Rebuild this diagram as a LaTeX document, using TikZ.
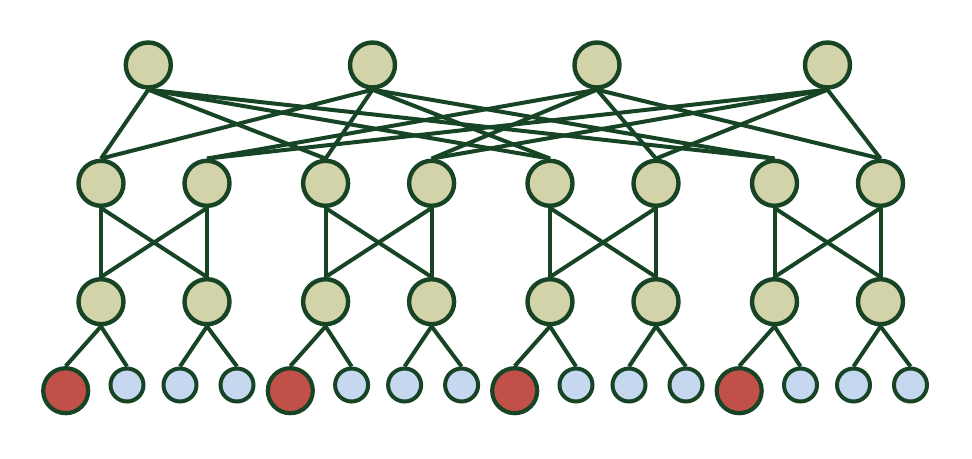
\documentclass[tikz,border=0pt]{standalone}
\usetikzlibrary{backgrounds}
\definecolor{lk}{RGB}{24,68,38}
\definecolor{tan}{RGB}{211,211,169}
\definecolor{hostred}{RGB}{192,80,72}
\definecolor{hostblue}{RGB}{198,216,240}
\begin{document}
\begin{tikzpicture}[x=1pt,y=-1pt,
  sw/.style={circle,draw=lk,line width=4.4pt,fill=tan,minimum size=45pt,inner sep=0pt},
  hb/.style={circle,draw=lk,line width=4pt,fill=hostblue,minimum size=33pt,inner sep=0pt},
  hr/.style={circle,draw=lk,line width=4.2pt,fill=hostred,minimum size=45pt,inner sep=0pt},
  lnk/.style={draw=lk,line width=4pt}]
\useasboundingbox (0,0) rectangle (972,458);
% core
\node[sw] (c1) at (148.3,65) {};
\node[sw] (c2) at (372.5,65) {};
\node[sw] (c3) at (597,65) {};
\node[sw] (c4) at (827.5,65) {};
% pods
\foreach \p/\ox in {1/101,2/325.6,3/550,4/774.5}{
  \node[sw] (a\p1) at (\ox,183.3) {};
  \node[sw] (a\p2) at (\ox+106,183.3) {};
  \node[sw] (e\p1) at (\ox,301.7) {};
  \node[sw] (e\p2) at (\ox+106,301.7) {};
  \node[hr] (h\p1) at (\ox-35.3,390.7) {};
  \node[hb] (h\p2) at (\ox+26,385) {};
  \node[hb] (h\p3) at (\ox+79,385) {};
  \node[hb] (h\p4) at (\ox+136,385) {};
}
\begin{scope}[on background layer]
\foreach \p in {1,2,3,4}{
  \path[lnk] (c1.south) -- (a\p1.north);
  \path[lnk] (c2.south) -- (a\p1.north);
  \path[lnk] (c3.south) -- (a\p2.north);
  \path[lnk] (c4.south) -- (a\p2.north);
  \path[lnk] (a\p1.south) -- (e\p1.north);
  \path[lnk] (a\p1.south) -- (e\p2.north);
  \path[lnk] (a\p2.south) -- (e\p1.north);
  \path[lnk] (a\p2.south) -- (e\p2.north);
  \path[lnk] (e\p1.south) -- (h\p1.north);
  \path[lnk] (e\p1.south) -- (h\p2.north);
  \path[lnk] (e\p2.south) -- (h\p3.north);
  \path[lnk] (e\p2.south) -- (h\p4.north);
}
\end{scope}
\end{tikzpicture}
\end{document}
